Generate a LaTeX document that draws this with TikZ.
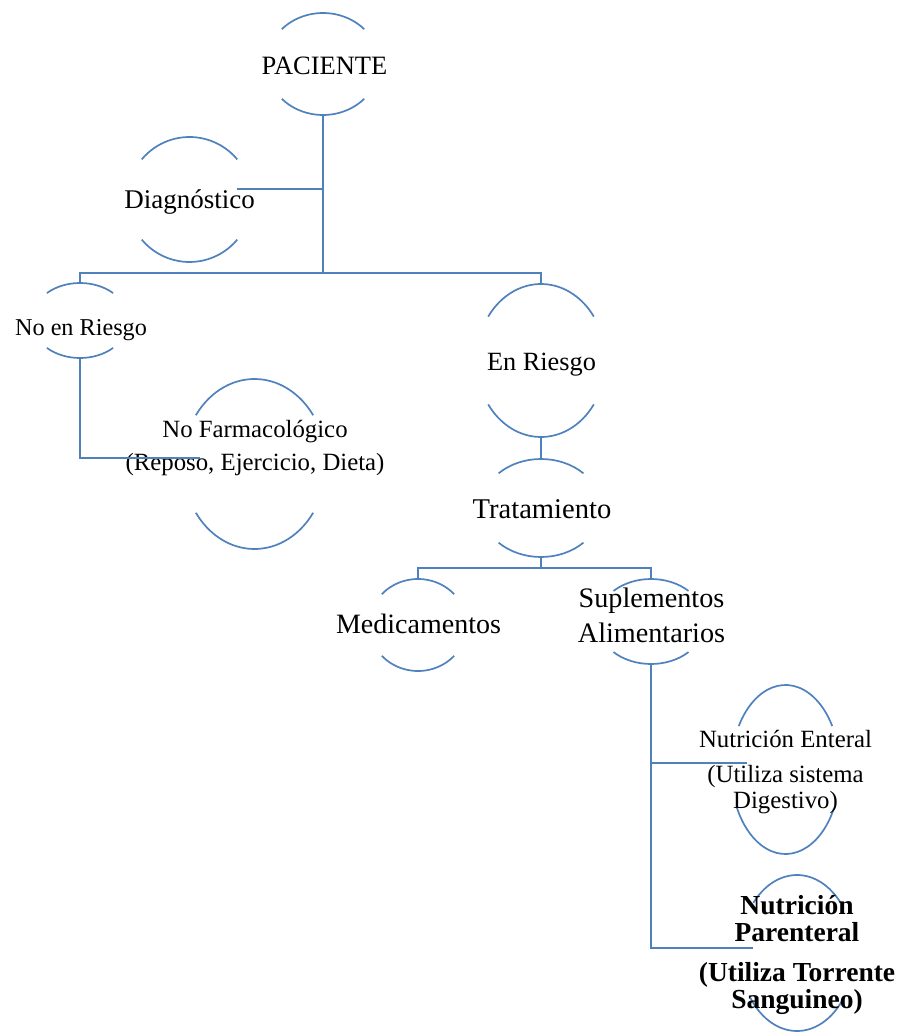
\documentclass[tikz,border=0pt]{standalone}
\usepackage{fontspec}
\setmainfont{Liberation Serif}
\usetikzlibrary{shapes.geometric}
\usetikzlibrary{calc}
\definecolor{smartblue}{RGB}{79,129,189}
% only the upper and lower arcs of each oval are shown
\newcommand\ovalarcs[5]{%
	\draw[oval] ($(#1.center)+(180+#4:#2 and #3)$) arc[start angle=180+#4,end angle=360-#4,x radius=#2,y radius=#3];
	\draw[oval] ($(#1.center)+(#5:#2 and #3)$) arc[start angle=#5,end angle=180-#5,x radius=#2,y radius=#3];
}

\begin{document}
\begin{tikzpicture}[x=1pt,y=-1pt,
	shell/.style={ellipse,draw=none,inner sep=0pt,outer sep=0pt},
	oval/.style={smartblue,line width=1.7pt},
	link/.style={smartblue,line width=1.7pt},
	lbl/.style={inner sep=0pt,anchor=base,align=center}]
	\useasboundingbox (0,0) rectangle (904,1032);

	% ovals
	\node [shell,minimum width=113pt,minimum height=102pt] at (323,64) (pac) {};
	\node [shell,minimum width=125pt,minimum height=125pt] at (189.5,199.5) (diag) {};
	\node [shell,minimum width=97pt,minimum height=75pt] at (80,320.5) (noriesgo) {};
	\node [shell,minimum width=129pt,minimum height=153pt] at (541,360.5) (enriesgo) {};
	\node [shell,minimum width=143pt,minimum height=170pt] at (254.5,464) (nofarm) {};
	\node [shell,minimum width=120pt,minimum height=98pt] at (541,508) (trat) {};
	\node [shell,minimum width=97pt,minimum height=92pt] at (418,625) (medic) {};
	\node [shell,minimum width=108pt,minimum height=85pt] at (651,621.5) (suple) {};
	\node [shell,minimum width=109pt,minimum height=169pt] at (785.5,769.5) (enteral) {};
	\node [shell,minimum width=114pt,minimum height=156pt] at (797,953) (parent) {};

	\ovalarcs{pac}{56.4}{51}{43}{43}
	\ovalarcs{diag}{62.3}{62.5}{40}{40}
	\ovalarcs{noriesgo}{48.5}{37.5}{47}{47}
	\ovalarcs{enriesgo}{64.5}{76.5}{35}{35}
	\ovalarcs{nofarm}{71.6}{85}{35}{35}
	\ovalarcs{trat}{60}{49}{45}{45}
	\ovalarcs{medic}{48.7}{46}{42}{42}
	\ovalarcs{suple}{54}{42.5}{46}{46}
	\ovalarcs{enteral}{54.5}{84.5}{31}{27}
	\ovalarcs{parent}{57}{78}{40}{34}

	% texts (base = baseline of the last line)
	\node [lbl,font=\fontsize{26.5}{30}\selectfont] at (324.5,75) (pac_t) {PACIENTE};
	\node [lbl,font=\fontsize{27}{30}\selectfont] at (189.5,209) (diag_t) {Diagnóstico};
	\node [lbl,font=\fontsize{24.2}{28}\selectfont] at (81,335) (noriesgo_t) {No en Riesgo};
	\node [lbl,font=\fontsize{26.3}{30}\selectfont] at (541.5,370) (enriesgo_t) {En Riesgo};
	\node [lbl,font=\fontsize{24.8}{33}\selectfont] at (255,470) (nofarm_t) {No Farmacológico\\(Reposo, Ejercicio, Dieta)};
	\node [lbl,font=\fontsize{28.6}{32}\selectfont] at (542,518) (trat_t) {Tratamiento};
	\node [lbl,font=\fontsize{28}{32}\selectfont] at (418.5,633) (medic_t) {Medicamentos};
	\node [lbl,font=\fontsize{28.2}{35}\selectfont] at (651.5,642) (suple_t) {Suplementos\\Alimentarios};
	\node [lbl,font=\fontsize{24.8}{26}\selectfont] at (785.5,808) (enteral_t) {Nutrición Enteral\\[9pt](Utiliza sistema\\Digestivo)};
	\node [lbl,font=\fontsize{27.5}{27}\selectfont\bfseries] at (797,1008) (parent_t) {Nutrición\\Parenteral\\[13pt](Utiliza Torrente\\Sanguineo)};

	% connector ends hidden by the text boxes
	\coordinate (lvl1) at (0,273);
	\coordinate (lvl2) at (0,568);
	\coordinate (diag_end) at (237,189);
	\coordinate (nofarm_end) at (200,458);
	\coordinate (enteral_end) at (747,763);
	\coordinate (parent_end) at (753,948);

	\draw [link] (pac.south) -- (pac.south |- lvl1);
	\draw [link] (diag_end) -- (diag_end -| pac.south);
	\draw [link] (noriesgo.north) -- (noriesgo.north |- lvl1) -| (enriesgo.north);
	\draw [link] (noriesgo.south) |- (nofarm_end);
	\draw [link] (enriesgo.south) -- (trat.north);
	\draw [link] (trat.south) -- (trat.south |- lvl2);
	\draw [link] (medic.north) -- (medic.north |- lvl2) -| (suple.north);
	\draw [link] (suple.south) |- (parent_end);
	\draw [link] (suple.south |- enteral_end) -- (enteral_end);
\end{tikzpicture}
\end{document}
